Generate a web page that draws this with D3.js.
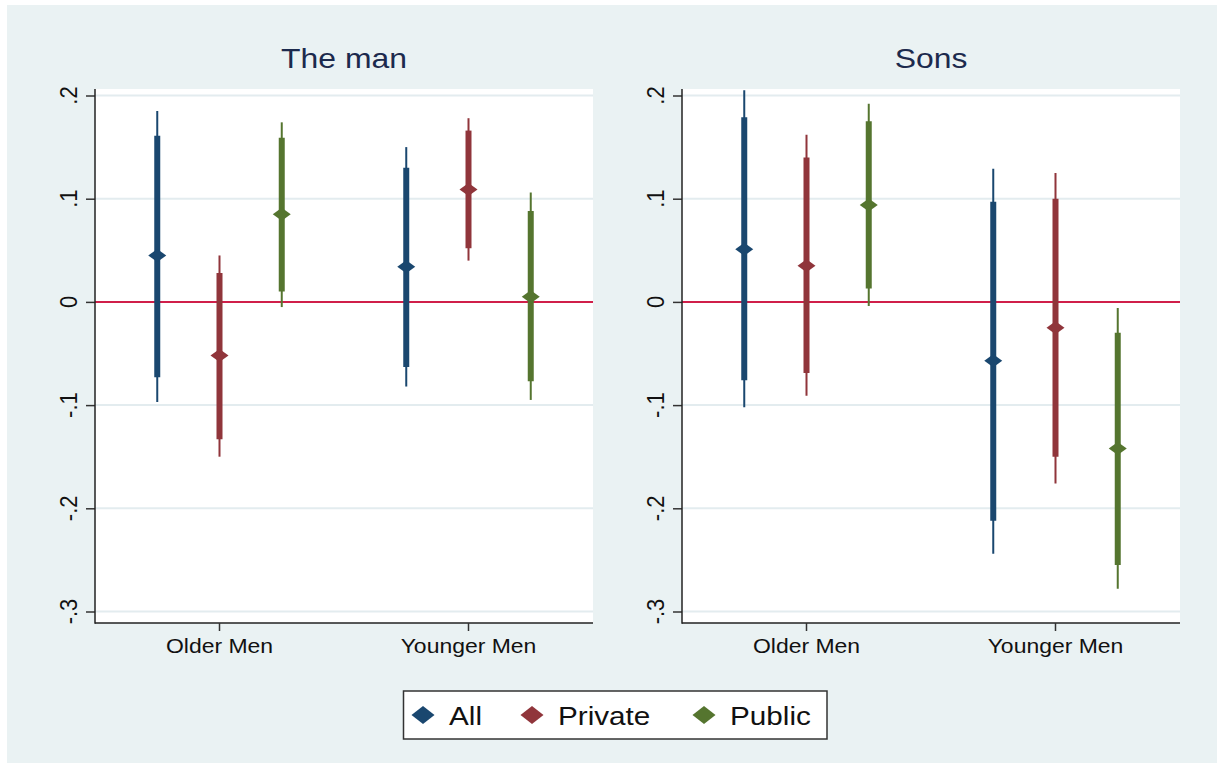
<!DOCTYPE html>
<html>
<head>
<meta charset="utf-8">
<script src="https://cdn.jsdelivr.net/npm/d3@7"></script>
<style>
  body { margin: 0; background: #fff; }
  text { font-family: "Liberation Sans", Arial, sans-serif; }
</style>
</head>
<body>
<div id="my_dataviz"></div>
<script>
// categories and series
var categories = ["Older Men", "Younger Men"]
var series = ["All", "Private", "Public"]
var colors = ["#1A476F", "#90353B", "#55752F"]
var yTicks = [0.2, 0.1, 0, -0.1, -0.2, -0.3]
var yTickLabels = [".2", ".1", "0", "-.1", "-.2", "-.3"]

// order: Older All, Older Private, Older Public, Younger All, Younger Private, Younger Public
var manEst  = [0.045, -0.052, 0.085, 0.034, 0.109, 0.005]
var manLo95 = [-0.097, -0.150, -0.005, -0.082, 0.040, -0.095]
var manHi95 = [0.185, 0.045, 0.174, 0.150, 0.178, 0.106]
var manLo90 = [-0.073, -0.133, 0.010, -0.063, 0.052, -0.077]
var manHi90 = [0.161, 0.028, 0.159, 0.130, 0.166, 0.088]

var sonsEst  = [0.051, 0.035, 0.094, -0.057, -0.025, -0.142]
var sonsLo95 = [-0.102, -0.091, -0.004, -0.244, -0.176, -0.278]
var sonsHi95 = [0.205, 0.162, 0.192, 0.129, 0.125, -0.006]
var sonsLo90 = [-0.076, -0.069, 0.013, -0.212, -0.150, -0.255]
var sonsHi90 = [0.179, 0.140, 0.175, 0.097, 0.100, -0.030]

function buildRows(est, lo95, hi95, lo90, hi90) {
  var rows = []
  for (var i = 0; i < est.length; i++) {
    rows.push({cat: Math.floor(i / 3), ser: i % 3, est: est[i],
               lo95: lo95[i], hi95: hi95[i], lo90: lo90[i], hi90: hi90[i]})
  }
  return rows
}

var panels = [
  {title: "The man", left: 95, rows: buildRows(manEst, manLo95, manHi95, manLo90, manHi90)},
  {title: "Sons", left: 682, rows: buildRows(sonsEst, sonsLo95, sonsHi95, sonsLo90, sonsHi90)}
]

var W = 1217, H = 763
var plotW = 498, plotTop = 89, plotBottom = 623
var sx = 1.12 // the picture is a bit wide, stretch text to match

var svg = d3.select("#my_dataviz")
  .append("svg")
    .attr("width", W)
    .attr("height", H)

// background
svg.append("rect")
  .attr("x", 7).attr("y", 5)
  .attr("width", W - 7).attr("height", H - 5)
  .style("fill", "#EAF2F3")

var y = d3.scaleLinear()
  .domain([-0.3, 0.2])
  .range([plotBottom - 11.5, plotTop + 6.5])

function diamond(hw, hh) {
  return "M0," + (-hh) + "L" + hw + ",0L0," + hh + "L" + (-hw) + ",0Z"
}

panels.forEach(function(p) {
  var x = d3.scaleLinear().domain([0, 8]).range([p.left, p.left + plotW])
  var xpos = function(d) { return x(1 + 4 * d.cat + d.ser) }
  var g = svg.append("g")

  // plot region
  g.append("rect")
    .attr("x", p.left).attr("y", plotTop)
    .attr("width", plotW).attr("height", plotBottom - plotTop)
    .style("fill", "white")

  // gridlines
  g.selectAll(".grid")
    .data(yTicks)
    .enter()
    .append("line")
      .attr("x1", p.left).attr("x2", p.left + plotW)
      .attr("y1", function(d) { return y(d) })
      .attr("y2", function(d) { return y(d) })
      .style("stroke", "#E3ECEF")
      .style("stroke-width", 2)

  // zero line
  g.append("line")
    .attr("x1", p.left).attr("x2", p.left + plotW)
    .attr("y1", y(0)).attr("y2", y(0))
    .style("stroke", "#D01F4A")
    .style("stroke-width", 2)

  // y axis
  var yAxis = g.append("g")
    .attr("transform", "translate(" + p.left + ",0)")
    .call(d3.axisLeft(y).tickValues(yTicks).tickSize(9).tickFormat(""))
  yAxis.select(".domain").remove()
  yAxis.selectAll(".tick line").style("stroke", "#333").style("stroke-width", 1.5)
  g.append("line")
    .attr("x1", p.left).attr("x2", p.left)
    .attr("y1", plotTop).attr("y2", plotBottom + 0.75)
    .style("stroke", "#222").style("stroke-width", 1.5)

  g.selectAll(".ylab")
    .data(yTicks)
    .enter()
    .append("text")
      .attr("transform", function(d) { return "translate(" + (p.left - 18) + "," + y(d) + ") scale(" + sx + ",1) rotate(-90)" })
      .attr("text-anchor", "middle")
      .style("font-size", "22px")
      .style("fill", "#111")
      .text(function(d, i) { return yTickLabels[i] })

  // x axis
  g.append("line")
    .attr("x1", p.left).attr("x2", p.left + plotW)
    .attr("y1", plotBottom).attr("y2", plotBottom)
    .style("stroke", "#222").style("stroke-width", 1.5)
  g.selectAll(".xtick")
    .data(categories)
    .enter()
    .append("line")
      .attr("x1", function(d, i) { return x(2 + 4 * i) })
      .attr("x2", function(d, i) { return x(2 + 4 * i) })
      .attr("y1", plotBottom).attr("y2", plotBottom + 8)
      .style("stroke", "#333").style("stroke-width", 1.5)
  g.selectAll(".xlab")
    .data(categories)
    .enter()
    .append("text")
      .attr("transform", function(d, i) { return "translate(" + x(2 + 4 * i) + ",653) scale(" + sx + ",1)" })
      .attr("text-anchor", "middle")
      .style("font-size", "20.5px")
      .style("fill", "#111")
      .text(function(d) { return d })

  // title
  g.append("text")
    .attr("transform", "translate(" + (p.left + plotW / 2) + ",68) scale(" + sx + ",1)")
    .attr("text-anchor", "middle")
    .style("font-size", "28.5px")
    .style("fill", "#1C2A4D")
    .text(p.title)

  // thin spikes (outer interval)
  g.selectAll(".thin")
    .data(p.rows)
    .enter()
    .append("line")
      .attr("x1", xpos).attr("x2", xpos)
      .attr("y1", function(d) { return y(d.hi95) })
      .attr("y2", function(d) { return y(d.lo95) })
      .style("stroke", function(d) { return colors[d.ser] })
      .style("stroke-width", 2)

  // thick bars (inner interval)
  g.selectAll(".thick")
    .data(p.rows)
    .enter()
    .append("line")
      .attr("x1", xpos).attr("x2", xpos)
      .attr("y1", function(d) { return y(d.hi90) })
      .attr("y2", function(d) { return y(d.lo90) })
      .style("stroke", function(d) { return colors[d.ser] })
      .style("stroke-width", 6)

  // point estimates
  g.selectAll(".pt")
    .data(p.rows)
    .enter()
    .append("path")
      .attr("d", diamond(9, 6.5))
      .attr("transform", function(d) { return "translate(" + xpos(d) + "," + y(d.est) + ")" })
      .style("fill", function(d) { return colors[d.ser] })
})

// legend
var legend = svg.append("g")
legend.append("rect")
  .attr("x", 403.5).attr("y", 691)
  .attr("width", 423.5).attr("height", 48)
  .style("fill", "white")
  .style("stroke", "#333")
  .style("stroke-width", 1.5)

var legendX = [423, 532, 704]
series.forEach(function(s, i) {
  legend.append("path")
    .attr("d", diamond(11.5, 9))
    .attr("transform", "translate(" + legendX[i] + ",715)")
    .style("fill", colors[i])
  legend.append("text")
    .attr("transform", "translate(" + (legendX[i] + 26) + ",725) scale(" + sx + ",1)")
    .style("font-size", "26.5px")
    .style("fill", "#111")
    .text(s)
})
</script>
</body>
</html>
